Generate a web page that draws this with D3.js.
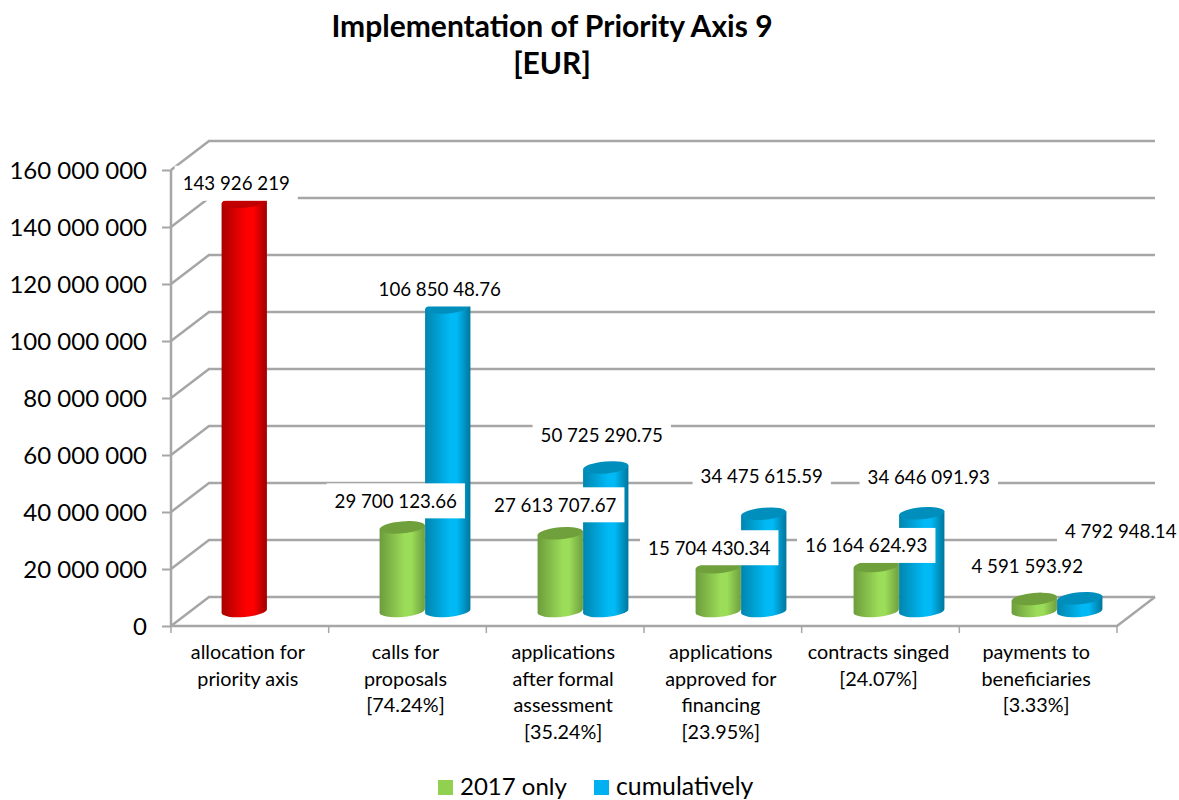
<!DOCTYPE html>
<html><head><meta charset="utf-8">
<script src="https://cdn.jsdelivr.net/npm/d3@7/dist/d3.min.js"></script>
<style>html,body{margin:0;padding:0;background:#fff}svg{display:block}text{font-family:Lato,"Open Sans",sans-serif;fill:#000}</style>
</head><body><svg id="c" width="1179" height="800"></svg>
<script>
const titleLines = ["Implementation of Priority Axis 9", "[EUR]"];
const categories = ["allocation for priority axis","calls for proposals [74.24%]","applications after formal assessment [35.24%]","applications approved for financing [23.95%]","contracts singed [24.07%]","payments to beneficiaries [3.33%]"];
const categoryLines = [["allocation for","priority axis"],["calls for","proposals","[74.24%]"],["applications","after formal","assessment","[35.24%]"],["applications","approved for","financing","[23.95%]"],["contracts singed","[24.07%]"],["payments to","beneficiaries","[3.33%]"]];
const seriesNames = ["2017 only","cumulatively"];
const valuesOnly2017 = [143926219, 29700123.66, 27613707.67, 15704430.34, 16164624.93, 4591593.92];
const valuesCumulative = [null, 106850487.6, 50725290.75, 34475615.59, 34646091.93, 4792948.14];
const labelsOnly2017 = ["143 926 219","29 700 123.66","27 613 707.67","15 704 430.34","16 164 624.93","4 591 593.92"];
const labelsCumulative = [null,"106 850 48.76","50 725 290.75","34 475 615.59","34 646 091.93","4 792 948.14"];
const yTicks = [0,20e6,40e6,60e6,80e6,100e6,120e6,140e6,160e6];
// label nudges relative to each bar's top centre
const nudgeOnly2017 = [[-8,-19],[-6.5,-27],[-5,-29],[-9,-20],[-10,-21],[-7,-33]];
const nudgeCumulative = [null,[-8,-19],[-4,-33],[-2,-38],[7,-37],[41,-68]];

const depthX = 38, depthY = 29, midX = 18, midY = 14;
const gridColor = "#a6a6a6";
const svg = d3.select("#c");
const y = d3.scaleLinear().domain([0,160e6]).range([626,170]);
const x = d3.scaleBand().domain(categories).range([171,1117]);
const xBars = d3.scaleBand().domain(categories).range([170,1118]);
const inner = d3.scaleBand().domain(seriesNames).range([-45.5,45.5]);

const defs = svg.append("defs");
function grad(id, a, b, c){
  const g = defs.append("linearGradient").attr("id",id).attr("x1",0).attr("x2",1).attr("y1",0).attr("y2",0);
  [[0,a],[0.55,b],[0.7,b],[1,c]].forEach(s=>g.append("stop").attr("offset",s[0]).attr("stop-color",s[1]));
}
grad("gGreen","#6d9c3c","#9bdc58","#6f9f3e");
grad("gBlue","#0085ae","#00b9f5","#00769c");
grad("gRed","#a80000","#ff0000","#a00000");
const looks = {
  green:{fill:"url(#gGreen)",top:"#70a03c"},
  blue:{fill:"url(#gBlue)",top:"#008fbd"},
  red:{fill:"url(#gRed)",top:"#c00000"}
};

// title
svg.append("g").selectAll("text").data(titleLines).join("text")
  .attr("x",552).attr("y",(d,i)=>37+i*37).attr("text-anchor","middle")
  .attr("font-size",30).attr("font-weight",700).text(d=>d);

// walls and gridlines
const grid = svg.append("g").attr("fill","none").attr("stroke",gridColor).attr("stroke-width",2.5);
yTicks.forEach(t=>{
  grid.append("path").attr("d",`M171,${y(t)}L${171+depthX},${y(t)-depthY}L${1117+depthX},${y(t)-depthY}`);
});
grid.append("path").attr("d",`M171,${y(0)}L1117,${y(0)}L${1117+depthX},${y(0)-depthY}`);
grid.append("path").attr("d",`M171,${y(0)}L171,${y(160e6)}`);

// axes
const yAxis = svg.append("g").attr("transform","translate(171,0)")
  .call(d3.axisLeft(y).tickValues(yTicks).tickSize(9).tickPadding(15).tickFormat(d=>d3.format(",")(d).replace(/,/g," ")));
yAxis.select(".domain").remove();
yAxis.selectAll("line").attr("stroke",gridColor).attr("stroke-width",2);
yAxis.selectAll("text").attr("font-size",24).attr("font-family","Lato").attr("fill","#000").attr("dy","0.37em");

const xAxis = svg.append("g").attr("transform",`translate(0,${y(0)})`);
xAxis.selectAll("line").data(d3.range(categories.length+1)).join("line")
  .attr("x1",i=>171+i*x.bandwidth()).attr("x2",i=>171+i*x.bandwidth())
  .attr("y1",0).attr("y2",7).attr("stroke",gridColor).attr("stroke-width",1.5);
const catLabels = svg.append("g");
categories.forEach((c,i)=>{
  catLabels.append("text").attr("text-anchor","middle").attr("font-size",19.8)
    .selectAll("tspan").data(categoryLines[i]).join("tspan")
    .attr("x",x(c)+x.bandwidth()/2-2).attr("y",(d,j)=>659+j*26.5).text(d=>d);
});

// cylinders
const rot = -5*Math.PI/180, ry = 6;
function addBar(cat, serie, value, look){
  if(value==null) return null;
  const cx = xBars(cat)+xBars.bandwidth()/2+midX+inner(serie)+inner.bandwidth()/2;
  const rx = inner.bandwidth()/2;
  const dx = rx*Math.cos(rot), dy = rx*Math.sin(rot);
  const yb = y(0)-midY-1, yt = y(value)-midY;
  const g = svg.append("g");
  g.append("path").attr("fill",look.fill)
    .attr("d",`M${cx-dx},${yt-dy}L${cx-dx},${yb-dy}A${rx},${ry} -5 0 0 ${cx+dx},${yb+dy}L${cx+dx},${yt+dy}Z`);
  g.append("ellipse").attr("cx",cx).attr("cy",yt).attr("rx",rx).attr("ry",ry)
    .attr("transform",`rotate(-5 ${cx} ${yt})`).attr("fill",look.top);
  return {cx,yt};
}
const tops = categories.map((c,i)=>({
  a:addBar(c,seriesNames[0],valuesOnly2017[i], i===0?looks.red:looks.green),
  b:addBar(c,seriesNames[1],valuesCumulative[i], looks.blue)
}));

// value labels with white boxes
const labelLayer = svg.append("g");
function addLabel(top,text,nudge){
  if(!top||!text) return;
  const px = top.cx+nudge[0], py = top.yt+nudge[1];
  const rect = labelLayer.append("rect").attr("fill","#fff");
  const t = labelLayer.append("text").attr("x",px).attr("y",py+7.5).attr("text-anchor","middle").attr("font-size",18.7).text(text);
  const w = t.node().getComputedTextLength();
  rect.attr("x",px-w/2-8).attr("width",w+16).attr("y",py-17).attr("height",35);
}
tops.forEach((tp,i)=>{
  addLabel(tp.a,labelsOnly2017[i],nudgeOnly2017[i]);
  addLabel(tp.b,labelsCumulative[i],nudgeCumulative[i]);
});

// legend
const legendX = [438,594], legendColors = ["#92d050","#00b0f0"];
const legend = svg.append("g");
seriesNames.forEach((n,i)=>{
  legend.append("rect").attr("x",legendX[i]).attr("y",780).attr("width",15).attr("height",15).attr("fill",legendColors[i]);
  legend.append("text").attr("x",legendX[i]+22).attr("y",795).attr("font-size",i===1?24.8:24).text(n);
});
</script></body></html>
